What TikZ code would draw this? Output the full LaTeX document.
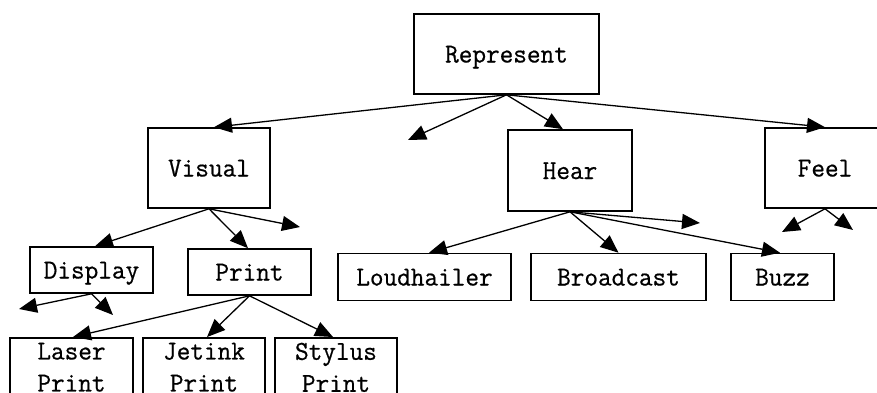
\documentclass[tikz,border=0pt]{standalone}
\usepackage{fontspec}
\setmonofont{Latin Modern Mono}[FakeStretch=0.97, FakeBold=0.6]
\usetikzlibrary{arrows.meta}

\tikzset{
  box/.style={draw, line width=1.6pt, inner sep=0pt,
    font=\ttfamily\fontsize{27.3}{32}\selectfont},
  oneline/.style={box, text height=17pt, text depth=0pt},
  twoline/.style={box, align=center, anchor=north, inner ysep=5pt,
    minimum width=123pt},
  link/.style={line width=1.3pt, -{Triangle[length=18pt,width=15pt]}},
}

\begin{document}
\begin{tikzpicture}[x=1pt, y=-1pt]
  \useasboundingbox (0,0) rectangle (877,392);
  \clip (0,0) rectangle (877,392);

  % top level
  \node[oneline, minimum width=185pt, minimum height=80pt] (rep) at (506.5,54) {Represent};

  % second level
  \node[oneline, minimum width=122pt, minimum height=80pt] (vis)  at (209,168)   {Visual};
  \node[oneline, minimum width=124pt, minimum height=81pt] (hear) at (570,170.5) {Hear};
  \node[oneline, minimum width=120pt, minimum height=80pt] (feel) at (825,168)   {Feel};

  % third level
  \node[oneline, minimum width=123pt, minimum height=46pt] (disp)  at (91.5,270)  {Display};
  \node[oneline, minimum width=123pt, minimum height=46pt] (print) at (249.5,272) {Print};
  \node[oneline, minimum width=173pt, minimum height=47pt] (loud)  at (424.5,277) {Loudhailer};
  \node[oneline, minimum width=175pt, minimum height=47pt] (bcast) at (618.5,277) {Broadcast};
  \node[oneline, minimum width=103pt, minimum height=47pt] (buzz)  at (782.5,277) {Buzz};

  % fourth level
  \node[twoline] (laser)  at (71.5,337) {Laser\\Print};
  \node[twoline, minimum width=122pt] (jet) at (204,337) {Jetink\\Print};
  \node[twoline, minimum width=122pt] (sty) at (336,337) {Stylus\\Print};

  % loose arrow ends
  \coordinate (repfree)   at (408,140);
  \coordinate (visfree)   at (300,227);
  \coordinate (dispfreeA) at (19,309);
  \coordinate (dispfreeB) at (113,315);
  \coordinate (hearfree)  at (700,223);
  \coordinate (feelfreeA) at (782,232);
  \coordinate (feelfreeB) at (853,230);

  % connectors
  \draw[link] (rep.south) -- ([xshift=5pt]vis.north);
  \draw[link] (rep.south) -- (repfree);
  \draw[link] (rep.south) -- ([xshift=-7pt]hear.north);
  \draw[link] (rep.south) -- (feel.north);

  \draw[link] (vis.south) -- ([xshift=3.5pt]disp.north);
  \draw[link] (vis.south) -- ([xshift=-1.5pt]print.north);
  \draw[link] (vis.south) -- (visfree);

  \draw[link] (disp.south) -- (dispfreeA);
  \draw[link] (disp.south) -- (dispfreeB);

  \draw[link] (print.south) -- ([xshift=1.5pt]laser.north);
  \draw[link] (print.south) -- ([xshift=3pt]jet.north);
  \draw[link] (print.south) -- ([xshift=-3pt]sty.north);

  \draw[link] (hear.south) -- ([xshift=4.5pt]loud.north);
  \draw[link] (hear.south) -- (bcast.north);
  \draw[link] (hear.south) -- (hearfree);
  \draw[link] (hear.south) -- ([xshift=-2.5pt]buzz.north);

  \draw[link] (feel.south) -- (feelfreeA);
  \draw[link] (feel.south) -- (feelfreeB);
\end{tikzpicture}
\end{document}
